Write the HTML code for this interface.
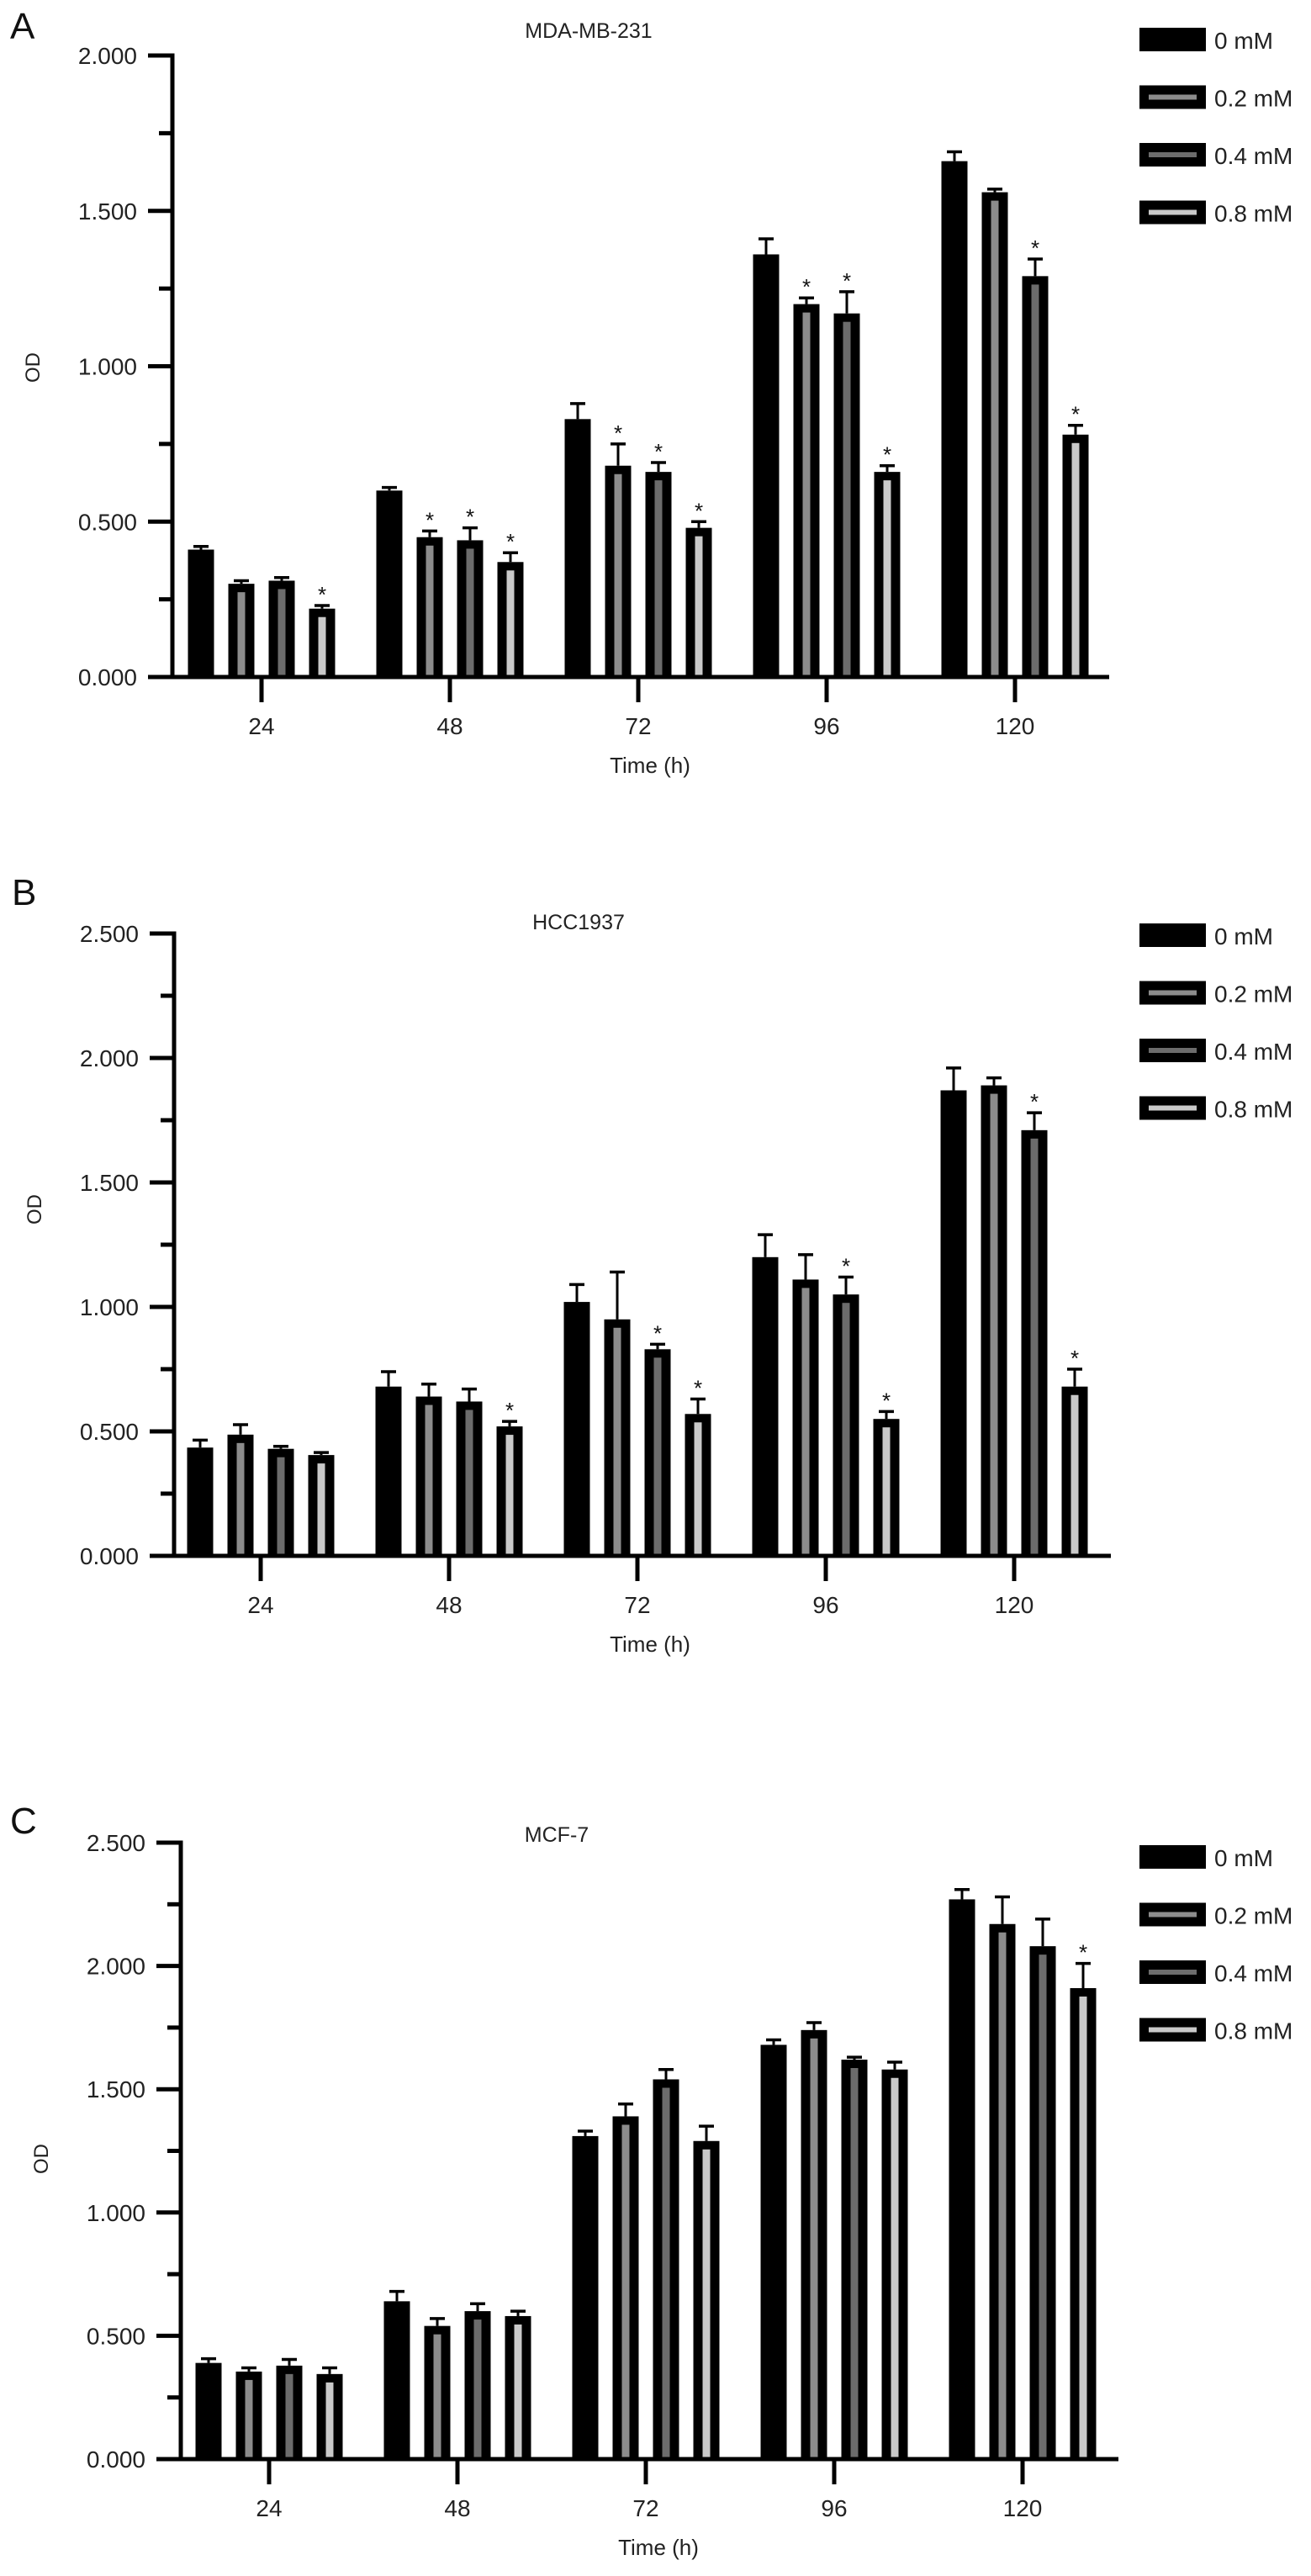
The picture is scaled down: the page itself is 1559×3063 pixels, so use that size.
<!DOCTYPE html>
<html><head><meta charset="utf-8">
<style>
html,body{margin:0;padding:0;background:#fff;}
svg{display:block;font-family:"Liberation Sans",Arial,sans-serif;}
</style></head>
<body>
<svg id="fig" width="1559" height="3063" viewBox="0 0 1559 3063" xmlns="http://www.w3.org/2000/svg"></svg>
<script>
// ---- shared data ----
const categories = ["24","48","72","96","120"];
const seriesNames = ["0 mM","0.2 mM","0.4 mM","0.8 mM"];

// Panel A: MDA-MB-231
const aMean0 = [0.41,0.60,0.83,1.36,1.66];
const aMean1 = [0.30,0.45,0.68,1.20,1.56];
const aMean2 = [0.31,0.44,0.66,1.17,1.29];
const aMean3 = [0.22,0.37,0.48,0.66,0.78];
const aErr0 = [0.01,0.01,0.05,0.05,0.03];
const aErr1 = [0.01,0.02,0.07,0.02,0.01];
const aErr2 = [0.01,0.04,0.03,0.07,0.055];
const aErr3 = [0.01,0.03,0.02,0.02,0.03];
const aSig1 = [0,1,1,1,0];
const aSig2 = [0,1,1,1,1];
const aSig3 = [1,1,1,1,1];
const aTicks = ["0.000","0.500","1.000","1.500","2.000"];

// Panel B: HCC1937
const bMean0 = [0.435,0.68,1.02,1.20,1.87];
const bMean1 = [0.487,0.64,0.95,1.11,1.89];
const bMean2 = [0.43,0.62,0.83,1.05,1.71];
const bMean3 = [0.405,0.52,0.57,0.55,0.68];
const bErr0 = [0.03,0.06,0.07,0.09,0.09];
const bErr1 = [0.04,0.05,0.19,0.10,0.03];
const bErr2 = [0.01,0.05,0.02,0.07,0.07];
const bErr3 = [0.01,0.02,0.06,0.03,0.07];
const bSig1 = [0,0,0,0,0];
const bSig2 = [0,0,1,1,1];
const bSig3 = [0,1,1,1,1];
const bTicks = ["0.000","0.500","1.000","1.500","2.000","2.500"];

// Panel C: MCF-7
const cMean0 = [0.39,0.64,1.31,1.68,2.27];
const cMean1 = [0.355,0.54,1.39,1.74,2.17];
const cMean2 = [0.379,0.60,1.54,1.62,2.08];
const cMean3 = [0.345,0.58,1.29,1.58,1.91];
const cErr0 = [0.017,0.04,0.02,0.02,0.04];
const cErr1 = [0.015,0.03,0.05,0.03,0.11];
const cErr2 = [0.025,0.03,0.04,0.01,0.11];
const cErr3 = [0.025,0.02,0.06,0.03,0.10];
const cSig1 = [0,0,0,0,0];
const cSig2 = [0,0,0,0,0];
const cSig3 = [0,0,0,0,1];
const cTicks = ["0.000","0.500","1.000","1.500","2.000","2.500"];

const NS = "http://www.w3.org/2000/svg";
const svg = document.getElementById("fig");
const stripeColors = [null,"#8c8c8c","#6c6c6c","#c9c9c9"];

function mk(tag, attrs, parent){
  const e = document.createElementNS(NS, tag);
  for (const k in attrs) e.setAttribute(k, attrs[k]);
  (parent||svg).appendChild(e);
  return e;
}

function panel(cfg){
  const g = mk("g", {});
  
  
  const yMax = cfg.yMax;
  const ys = v => cfg.y0 - (v / yMax) * (cfg.y0 - cfg.yTop);
  const xs = i => cfg.tick0 + i * 224;

  const letter = mk("text", {x:cfg.letterX, y:cfg.letterY, "font-size":44, fill:"#111"}, g);
  letter.textContent = cfg.letter;
  
  

  const title = mk("text", {x:cfg.titleX, y:cfg.titleY, "font-size":25, "text-anchor":"middle", fill:"#222"}, g);
  title.textContent = cfg.title;
  
  

  // y axis
  const yaxis = mk("line", {x1:cfg.ax, y1:cfg.yTop-2.5, x2:cfg.ax, y2:cfg.y0+2.5, stroke:"#000", "stroke-width":5}, g);
  
  
  const nT = cfg.ticks.length;
  for (let i=0;i<nT;i++){
    const v = parseFloat(cfg.ticks[i]);
    const y = ys(v);
    const t = mk("line", {x1:cfg.ax-29, y1:y, x2:cfg.ax, y2:y, stroke:"#000", "stroke-width":5}, g);
    
    
    const lb = mk("text", {x:cfg.ax-42, y:y+10, "font-size":28, "text-anchor":"end", fill:"#222"}, g);
    lb.textContent = cfg.ticks[i];
    
    
    if (i < nT-1){
      const ym = ys(v + 0.25);
      const m = mk("line", {x1:cfg.ax-16, y1:ym, x2:cfg.ax, y2:ym, stroke:"#000", "stroke-width":5}, g);
      
      
    }
  }
  const yl = mk("text", {x:0, y:0, "font-size":24, "text-anchor":"middle", fill:"#222",
    transform:"translate(" + (cfg.ax-158) + "," + cfg.odY + ") rotate(-90)"}, g);
  yl.textContent = "OD";
  
  

  // bars
  const bw = 31, pitch = 48;
  for (let s=0;s<4;s++){
    for (let i=0;i<categories.length;i++){
      const cx = xs(i) + (s - 1.5) * pitch;
      const v = cfg.means[s][i], e = cfg.errs[s][i];
      const top = ys(v), base = cfg.y0;
      const eTop = ys(v + e);
      const el = mk("line", {x1:cx, y1:eTop, x2:cx, y2:top, stroke:"#000", "stroke-width":3}, g);
      
      
      const cap = mk("line", {x1:cx-9, y1:eTop, x2:cx+9, y2:eTop, stroke:"#000", "stroke-width":3.5}, g);
      
      
      const r = mk("rect", {x:cx-bw/2, y:top, width:bw, height:base-top, fill:"#000"}, g);
      
      
      if (s>0 && base-top > 11){
        const st = mk("rect", {x:cx-4.5, y:top+10, width:9, height:base-top-10, fill:stripeColors[s]}, g);
        
        
      }
      if (s>0 && cfg.sig[s-1][i]){
        const a = mk("text", {x:cx, y:eTop-4, "font-size":26, "text-anchor":"middle", fill:"#111"}, g);
        a.textContent = "*";
        
        
      }
    }
  }

  // x axis
  const xaxis = mk("line", {x1:cfg.ax-29, y1:cfg.y0, x2:cfg.axEnd, y2:cfg.y0, stroke:"#000", "stroke-width":5}, g);
  
  
  for (let i=0;i<categories.length;i++){
    const x = xs(i);
    const t = mk("line", {x1:x, y1:cfg.y0, x2:x, y2:cfg.y0+30, stroke:"#000", "stroke-width":5}, g);
    
    
    const lb = mk("text", {x:x, y:cfg.y0+68, "font-size":28, "text-anchor":"middle", fill:"#222"}, g);
    lb.textContent = categories[i];
    
    
  }
  const xt = mk("text", {x:cfg.timeX, y:cfg.y0+114, "font-size":26, "text-anchor":"middle", fill:"#222"}, g);
  xt.textContent = "Time (h)";
  
  

  // legend
  for (let s=0;s<4;s++){
    const cy = cfg.legY + s * 68.5;
    const lg = mk("g", {}, g);
    
    
    mk("rect", {x:1355, y:cy-14, width:79, height:28, fill:"#000"}, lg);
    if (s>0) mk("rect", {x:1366, y:cy-3, width:57, height:6, fill:stripeColors[s]}, lg);
    const tx = mk("text", {x:1444, y:cy+11, "font-size":28, fill:"#222"}, lg);
    tx.textContent = seriesNames[s];
  }
}

panel({id:"a", letter:"A", letterX:12, letterY:46, title:"MDA-MB-231", titleX:700, titleY:45,
  ax:205, axEnd:1319, yTop:66, y0:805, yMax:2.0, tick0:311, ticks:aTicks, odY:437, timeX:773, legY:47,
  means:[aMean0,aMean1,aMean2,aMean3], errs:[aErr0,aErr1,aErr2,aErr3], sig:[aSig1,aSig2,aSig3]});
panel({id:"b", letter:"B", letterX:14, letterY:1076, title:"HCC1937", titleX:688, titleY:1105,
  ax:207, axEnd:1321, yTop:1110, y0:1850, yMax:2.5, tick0:310, ticks:bTicks, odY:1438, timeX:773, legY:1112,
  means:[bMean0,bMean1,bMean2,bMean3], errs:[bErr0,bErr1,bErr2,bErr3], sig:[bSig1,bSig2,bSig3]});
panel({id:"c", letter:"C", letterX:12, letterY:2180, title:"MCF-7", titleX:662, titleY:2190,
  ax:215, axEnd:1330, yTop:2191, y0:2924, yMax:2.5, tick0:320, ticks:cTicks, odY:2567, timeX:783, legY:2208,
  means:[cMean0,cMean1,cMean2,cMean3], errs:[cErr0,cErr1,cErr2,cErr3], sig:[cSig1,cSig2,cSig3]});
</script>
</body></html>
